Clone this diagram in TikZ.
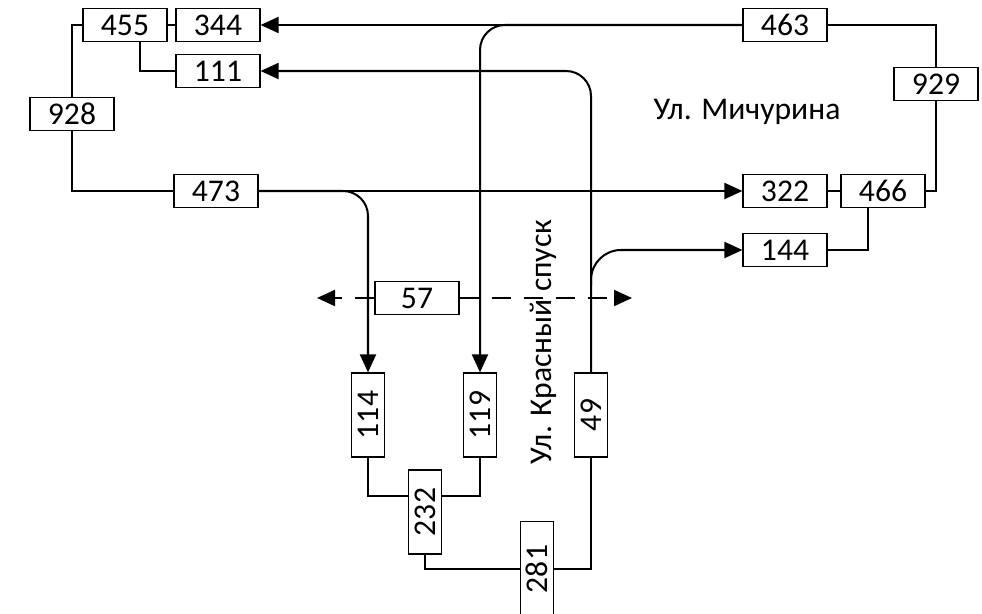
\documentclass[tikz,border=0pt]{standalone}
\usepackage{fontspec}
\setmainfont{Carlito}
\usetikzlibrary{arrows.meta}

\begin{document}
\begin{tikzpicture}[x = 0.02cm, y = -0.02cm, font = \fontsize{18}{20}\selectfont,
    box/.style = {draw, line width = 0.7pt, fill = white, minimum width = 1.68cm, minimum height = 0.66cm, inner sep = 0pt},
    vbox/.style = {box, minimum width = 0.66cm, minimum height = 1.68cm},
    road/.style = {line width = 1.15pt},
    flow/.style = {road, -{Triangle[length = 0.36cm, width = 0.32cm]}},
    corner/.style = {rounded corners = 0.5cm}]

        \useasboundingbox (0,0) rectangle (982,614);

%boxes on the top and left
        \node[box] (n455) at (125,25) {455};
        \node[box] (n344) at (218,25) {344};
        \node[box] (n111) at (218,71) {111};
        \node[box] (n928) at (72,114) {928};
        \node[box] (n473) at (216,191) {473};

%boxes on the right
        \node[box] (n463) at (785,25) {463};
        \node[box] (n929) at (936,84) {929};
        \node[box] (n322) at (785,191) {322};
        \node[box] (n466) at (883,191) {466};
        \node[box] (n144) at (785,250) {144};

%boxes at the bottom
        \node[box] (n57) at (417,298) {57};
        \node[vbox] (n114) at (368,415) {\rotatebox{90}{114}};
        \node[vbox] (n119) at (480,415) {\rotatebox{90}{119}};
        \node[vbox] (n49) at (591,415) {\rotatebox{90}{49}};
        \node[vbox] (n232) at (425,512) {\rotatebox{90}{232}};
        \node[vbox, minimum height = 1.9cm] (n281) at (537,569) {\rotatebox{90}{281}};

        \coordinate (fork49) at (591,285);
        \coordinate (l57) at (317,298);
        \coordinate (r57) at (632,298);

%plain links
        \draw[road] (n455.west) -| (n928.north);
        \draw[road] (n928.south) |- (n473.west);
        \draw[road] (n455.east) -- (n344.west);
        \draw[road] ([xshift = 0.3cm]n455.south) |- (n111.west);
        \draw[road] (n463.east) -| (n929.north);
        \draw[road] (n929.south) |- (n466.east);
        \draw[road] (n322.east) -- (n466.west);
        \draw[road] ([xshift = -0.3cm]n466.south) |- (n144.east);
        \draw[road] (n114.south) |- ([yshift = 0.32cm]n232.west);
        \draw[road] (n119.south) |- ([yshift = 0.32cm]n232.east);
        \draw[road] (n232.south) |- (n281.west);
        \draw[road] (n281.east) -| (n49.south);

%arrows
        \draw[flow] (n463.west) -- (n344.east);
        \draw[flow, corner] (n463.west) -| (n119.north);
        \draw[flow] (n473.east) -- (n322.west);
        \draw[flow, corner] (n473.east) -| (n114.north);
        \draw[flow, corner] (n49.north) |- (n111.east);
        \draw[flow, rounded corners = 0.6cm] (fork49) |- (n144.west);

%dashed crossing
        \draw[flow, dash pattern = on 0.38cm off 0.26cm] (n57.west) -- (l57);
        \draw[flow, dash pattern = on 0.38cm off 0.26cm] (n57.east) -- (r57);

%street names
        \node (mich) at (747,112) {Ул. Мичурина};
        \node[rotate = 90] (kras) at (543,342) {Ул. Красный спуск};
\end{tikzpicture}
\end{document}
